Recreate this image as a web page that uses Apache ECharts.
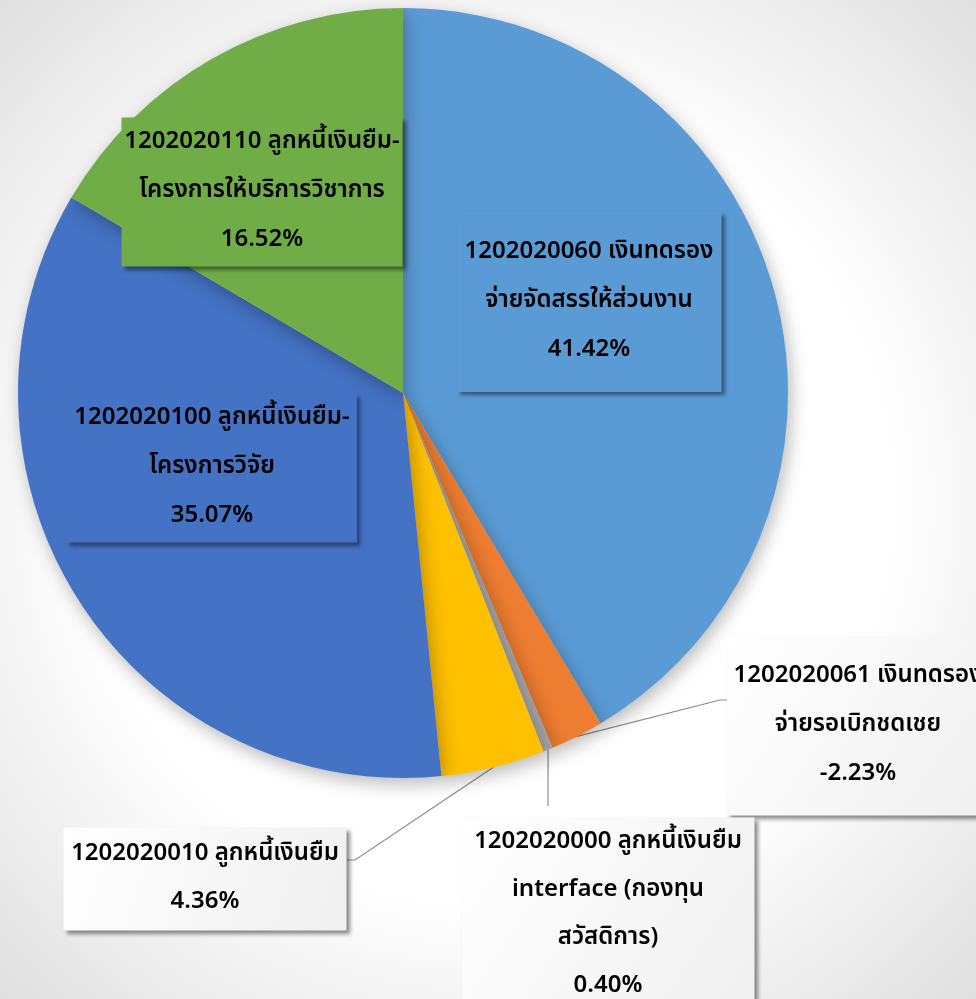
<!DOCTYPE html>
<html>
<head>
<meta charset="utf-8">
<script src="https://cdn.jsdelivr.net/npm/echarts@6/dist/echarts.min.js"></script>
<style>html,body{margin:0;padding:0;background:#fff}#chart{width:976px;height:999px}</style>
</head>
<body>
<div id="chart"></div>
<script>
// Categories (line breaks as they wrap in the picture)
const categories = [
  '1202020060 เงินทดรอง\nจ่ายจัดสรรให้ส่วนงาน',
  '1202020061 เงินทดรอง\nจ่ายรอเบิกชดเชย',
  '1202020000 ลูกหนี้เงินยืม\ninterface (กองทุน\nสวัสดิการ)',
  '1202020010 ลูกหนี้เงินยืม',
  '1202020100 ลูกหนี้เงินยืม-\nโครงการวิจัย',
  '1202020110 ลูกหนี้เงินยืม-\nโครงการให้บริการวิชาการ'
];
// Shares in percent (signed, as labelled)
const shares = [41.42, -2.23, 0.40, 4.36, 35.07, 16.52];
const colors = ['#5B9BD5', '#ED7D31', '#A5A5A5', '#FFC000', '#4472C4', '#70AD47'];

const whiteBox = {
  type: 'linear', x: 0, y: 0, x2: 1, y2: 1,
  colorStops: [{offset: 0, color: '#ffffff'}, {offset: 1, color: '#f0f0f0'}]
};

// label box styling / placement (layout only)
const labelBoxes = [
  {cx: 589, cy: 302, w: 245, pad: [16, 10, 17, 10], lh: 49, bg: colors[0], inside: true},
  {cx: 858, cy: 726, w: 242, pad: [16, 10, 16, 10], lh: 49, bg: whiteBox, line: [[720, 700], [729, 700]]},
  {cx: 608, cy: 915, w: 281, pad: [0, 6, 3, 6], lh: 48, bg: whiteBox, line: [[548, 806], [548, 806]]},
  {cx: 205, cy: 879, w: 271, pad: [4, 6, 3, 6], lh: 48, bg: whiteBox, line: [[355, 860], [347, 860]]},
  {cx: 212, cy: 468, w: 280, pad: [1, 5, 1, 5], lh: 49, bg: colors[4], inside: true},
  {cx: 262, cy: 192, w: 271, pad: [1, 5, 1, 5], lh: 49, bg: colors[5], inside: true}
];

const data = categories.map((name, i) => {
  const b = labelBoxes[i];
  return {
    name: name,
    value: Math.abs(shares[i]),
    itemStyle: {color: colors[i]},
    label: {
      backgroundColor: b.bg,
      padding: b.pad,
      width: b.w,
      overflow: 'none',
      lineHeight: b.lh,
      align: 'center',
      verticalAlign: 'middle'
    },
    labelLine: {show: !b.inside}
  };
});

const chart = echarts.init(document.getElementById('chart'), null, {renderer: 'canvas'});
chart.setOption({
  backgroundColor: {
    type: 'radial', x: 0.5, y: 0.5, r: 0.75,
    colorStops: [
      {offset: 0, color: '#ffffff'},
      {offset: 0.55, color: '#ffffff'},
      {offset: 1, color: '#dcdcdc'}
    ]
  },
  animation: false,
  series: [{
    type: 'pie',
    center: [403, 393],
    radius: 385,
    startAngle: 90,
    clockwise: true,
    avoidLabelOverlap: false,
    data: data,
    itemStyle: {
      shadowBlur: 18,
      shadowOffsetX: 3,
      shadowOffsetY: 6,
      shadowColor: 'rgba(0,0,0,0.28)'
    },
    label: {
      show: true,
      position: 'outside',
      color: '#000',
      fontSize: 24,
      fontWeight: 600,
      overflow: 'none',
      fontFamily: '"Noto Sans Thai", "Noto Sans", sans-serif',
      shadowBlur: 4,
      shadowOffsetX: 3,
      shadowOffsetY: 3,
      shadowColor: 'rgba(0,0,0,0.45)',
      formatter: (p) => p.name + '\n' + shares[p.dataIndex].toFixed(2) + '%'
    },
    labelLine: {
      show: true,
      lineStyle: {color: '#8c8c8c', width: 1.2}
    },
    labelLayout: function (params) {
      const b = labelBoxes[params.dataIndex];
      const out = {x: b.cx, y: b.cy, align: 'center', verticalAlign: 'middle'};
      if (!b.inside && params.labelLinePoints) {
        out.labelLinePoints = [params.labelLinePoints[0], b.line[0], b.line[1]];
      }
      return out;
    }
  }]
});
</script>
</body>
</html>
